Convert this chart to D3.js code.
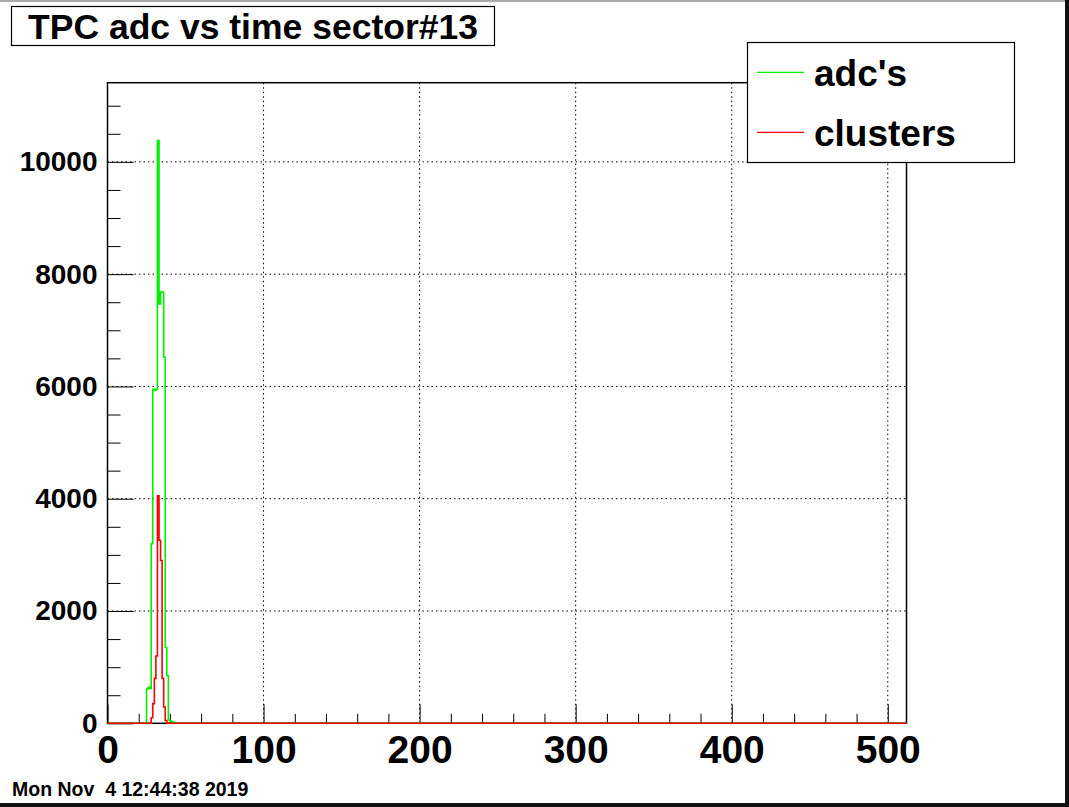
<!DOCTYPE html>
<html>
<head>
<meta charset="utf-8">
<script src="https://cdn.jsdelivr.net/npm/d3@7"></script>
<style>
  body { margin: 0; background: #fff; }
  svg { display: block; font-family: "Liberation Sans", Arial, sans-serif; font-weight: bold; }
</style>
</head>
<body>
<script>
// Data (time bins 0..511, only non-zero stretch listed)
const nBins = 512;
const adcStart = 25;
const adcCounts = [610, 640, 620, 3200, 5950, 5930, 5950, 10380, 7470, 7680, 7680, 6520, 1350, 850, 60, 40, 30, 20];
const clusterStart = 28;
const clusterCounts = [100, 350, 800, 1200, 4050, 3260, 2900, 800, 290, 50];
const xTicks = [0, 100, 200, 300, 400, 500];
const yTicks = [0, 2000, 4000, 6000, 8000, 10000];
const titleText = "TPC adc vs time sector#13";
const legendLabels = ["adc's", "clusters"];
const dateText = "Mon Nov  4 12:44:38 2019";

function fullHist(start, counts) {
  let h = new Array(nBins).fill(0);
  counts.forEach((c, i) => { h[start + i] = c; });
  return h;
}

function main() {
  const width = 1069, height = 807;
  const left = 107.5, right = 906.5, top = 82.7, bottom = 723.3;

  let svg = d3.select("body").append("svg")
    .attr("width", width)
    .attr("height", height)

  // canvas border
  svg.append("rect").attr("x", 0).attr("y", 0).attr("width", width).attr("height", 2).attr("fill", "#aaa")
  svg.append("rect").attr("x", width - 4).attr("y", 0).attr("width", 4).attr("height", height).attr("fill", "#111")
  svg.append("rect").attr("x", 0).attr("y", height - 4).attr("width", width).attr("height", 4).attr("fill", "#111")

  let xScale = d3.scaleLinear().domain([0, nBins]).range([left, right])
  let yScale = d3.scaleLinear().domain([0, 11410]).range([bottom, top])

  // grid
  svg.append("g").selectAll("line")
    .data(xTicks.filter(d => d > 0)).enter().append("line")
    .attr("x1", d => xScale(d)).attr("x2", d => xScale(d))
    .attr("y1", top).attr("y2", bottom)
    .attr("stroke", "#000").attr("stroke-dasharray", "1.5,3")
  svg.append("g").selectAll("line")
    .data(yTicks.filter(d => d > 0)).enter().append("line")
    .attr("x1", left).attr("x2", right)
    .attr("y1", d => yScale(d)).attr("y2", d => yScale(d))
    .attr("stroke", "#000").attr("stroke-dasharray", "1.5,3")

  // minor ticks
  let xMinor = d3.range(0, nBins + 1, 20).filter(d => d % 100 != 0)
  let yMinor = d3.range(0, 11410, 500).filter(d => d % 2000 != 0)
  svg.append("g").attr("transform", `translate(0,${bottom})`)
    .call(d3.axisBottom(xScale).tickValues(xMinor).tickSize(-9.5).tickFormat(""))
    .call(g => g.select(".domain").remove())
  svg.append("g").attr("transform", `translate(${left},0)`)
    .call(d3.axisLeft(yScale).tickValues(yMinor).tickSize(-13).tickFormat(""))
    .call(g => g.select(".domain").remove())

  // major axes
  let xAxis = svg.append("g").attr("transform", `translate(0,${bottom})`)
    .call(d3.axisBottom(xScale).tickValues(xTicks).tickSize(-19).tickPadding(12).tickFormat(d3.format("d")))
  let yAxis = svg.append("g").attr("transform", `translate(${left},0)`)
    .call(d3.axisLeft(yScale).tickValues(yTicks).tickSize(-26).tickPadding(10).tickFormat(d3.format("d")))
  for (let ax of [xAxis, yAxis]) {
    ax.selectAll(".domain").remove()
    ax.selectAll("line").attr("stroke", "#000")
    ax.selectAll("text").attr("font-family", "Liberation Sans, Arial, sans-serif")
      .attr("font-weight", "bold").attr("fill", "#000")
  }
  xAxis.selectAll("text").attr("font-size", 39)
  yAxis.selectAll("text").attr("font-size", 28)

  // frame
  svg.append("rect")
    .attr("x", left).attr("y", top)
    .attr("width", right - left).attr("height", bottom - top)
    .attr("fill", "none").attr("stroke", "#000").attr("stroke-width", 1.5)

  // histograms as steps
  let step = d3.line()
    .x(d => xScale(d[0]))
    .y(d => yScale(d[1]))
    .curve(d3.curveStepAfter)
  let toPoints = h => {
    let pts = h.map((v, i) => [i, v]);
    pts.push([nBins, h[nBins - 1]]);
    return pts;
  }
  svg.append("path").datum(toPoints(fullHist(adcStart, adcCounts)))
    .attr("d", step).attr("fill", "none").attr("stroke", "#00ee00").attr("stroke-width", 1.6)
  svg.append("path").datum(toPoints(fullHist(clusterStart, clusterCounts)))
    .attr("d", step).attr("fill", "none").attr("stroke", "#ff0000").attr("stroke-width", 1.6)

  // title box
  svg.append("rect").attr("x", 11.5).attr("y", 6.5).attr("width", 483).attr("height", 39)
    .attr("fill", "#fff").attr("stroke", "#000").attr("stroke-width", 1.2)
  svg.append("text").attr("x", 253).attr("y", 38.5).attr("text-anchor", "middle")
    .attr("font-size", 35.5).text(titleText)

  // legend
  svg.append("rect").attr("x", 747.5).attr("y", 42.5).attr("width", 267).attr("height", 120)
    .attr("fill", "#fff").attr("stroke", "#000").attr("stroke-width", 1.2)
  const legColors = ["#00ee00", "#ff0000"];
  let leg = svg.append("g").selectAll("g").data(legendLabels).enter().append("g")
    .attr("transform", (d, i) => `translate(0,${72.3 + i * 60})`)
  leg.append("line").attr("x1", 757).attr("x2", 804)
    .attr("stroke", (d, i) => legColors[i]).attr("stroke-width", 1.2)
  leg.append("text").attr("x", 814).attr("y", 13.5).attr("font-size", 37).text(d => d)

  // date stamp
  svg.append("text").attr("x", 12).attr("y", 796).attr("font-size", 19.5)
    .style("white-space", "pre").text(dateText)
}

main()
</script>
</body>
</html>
